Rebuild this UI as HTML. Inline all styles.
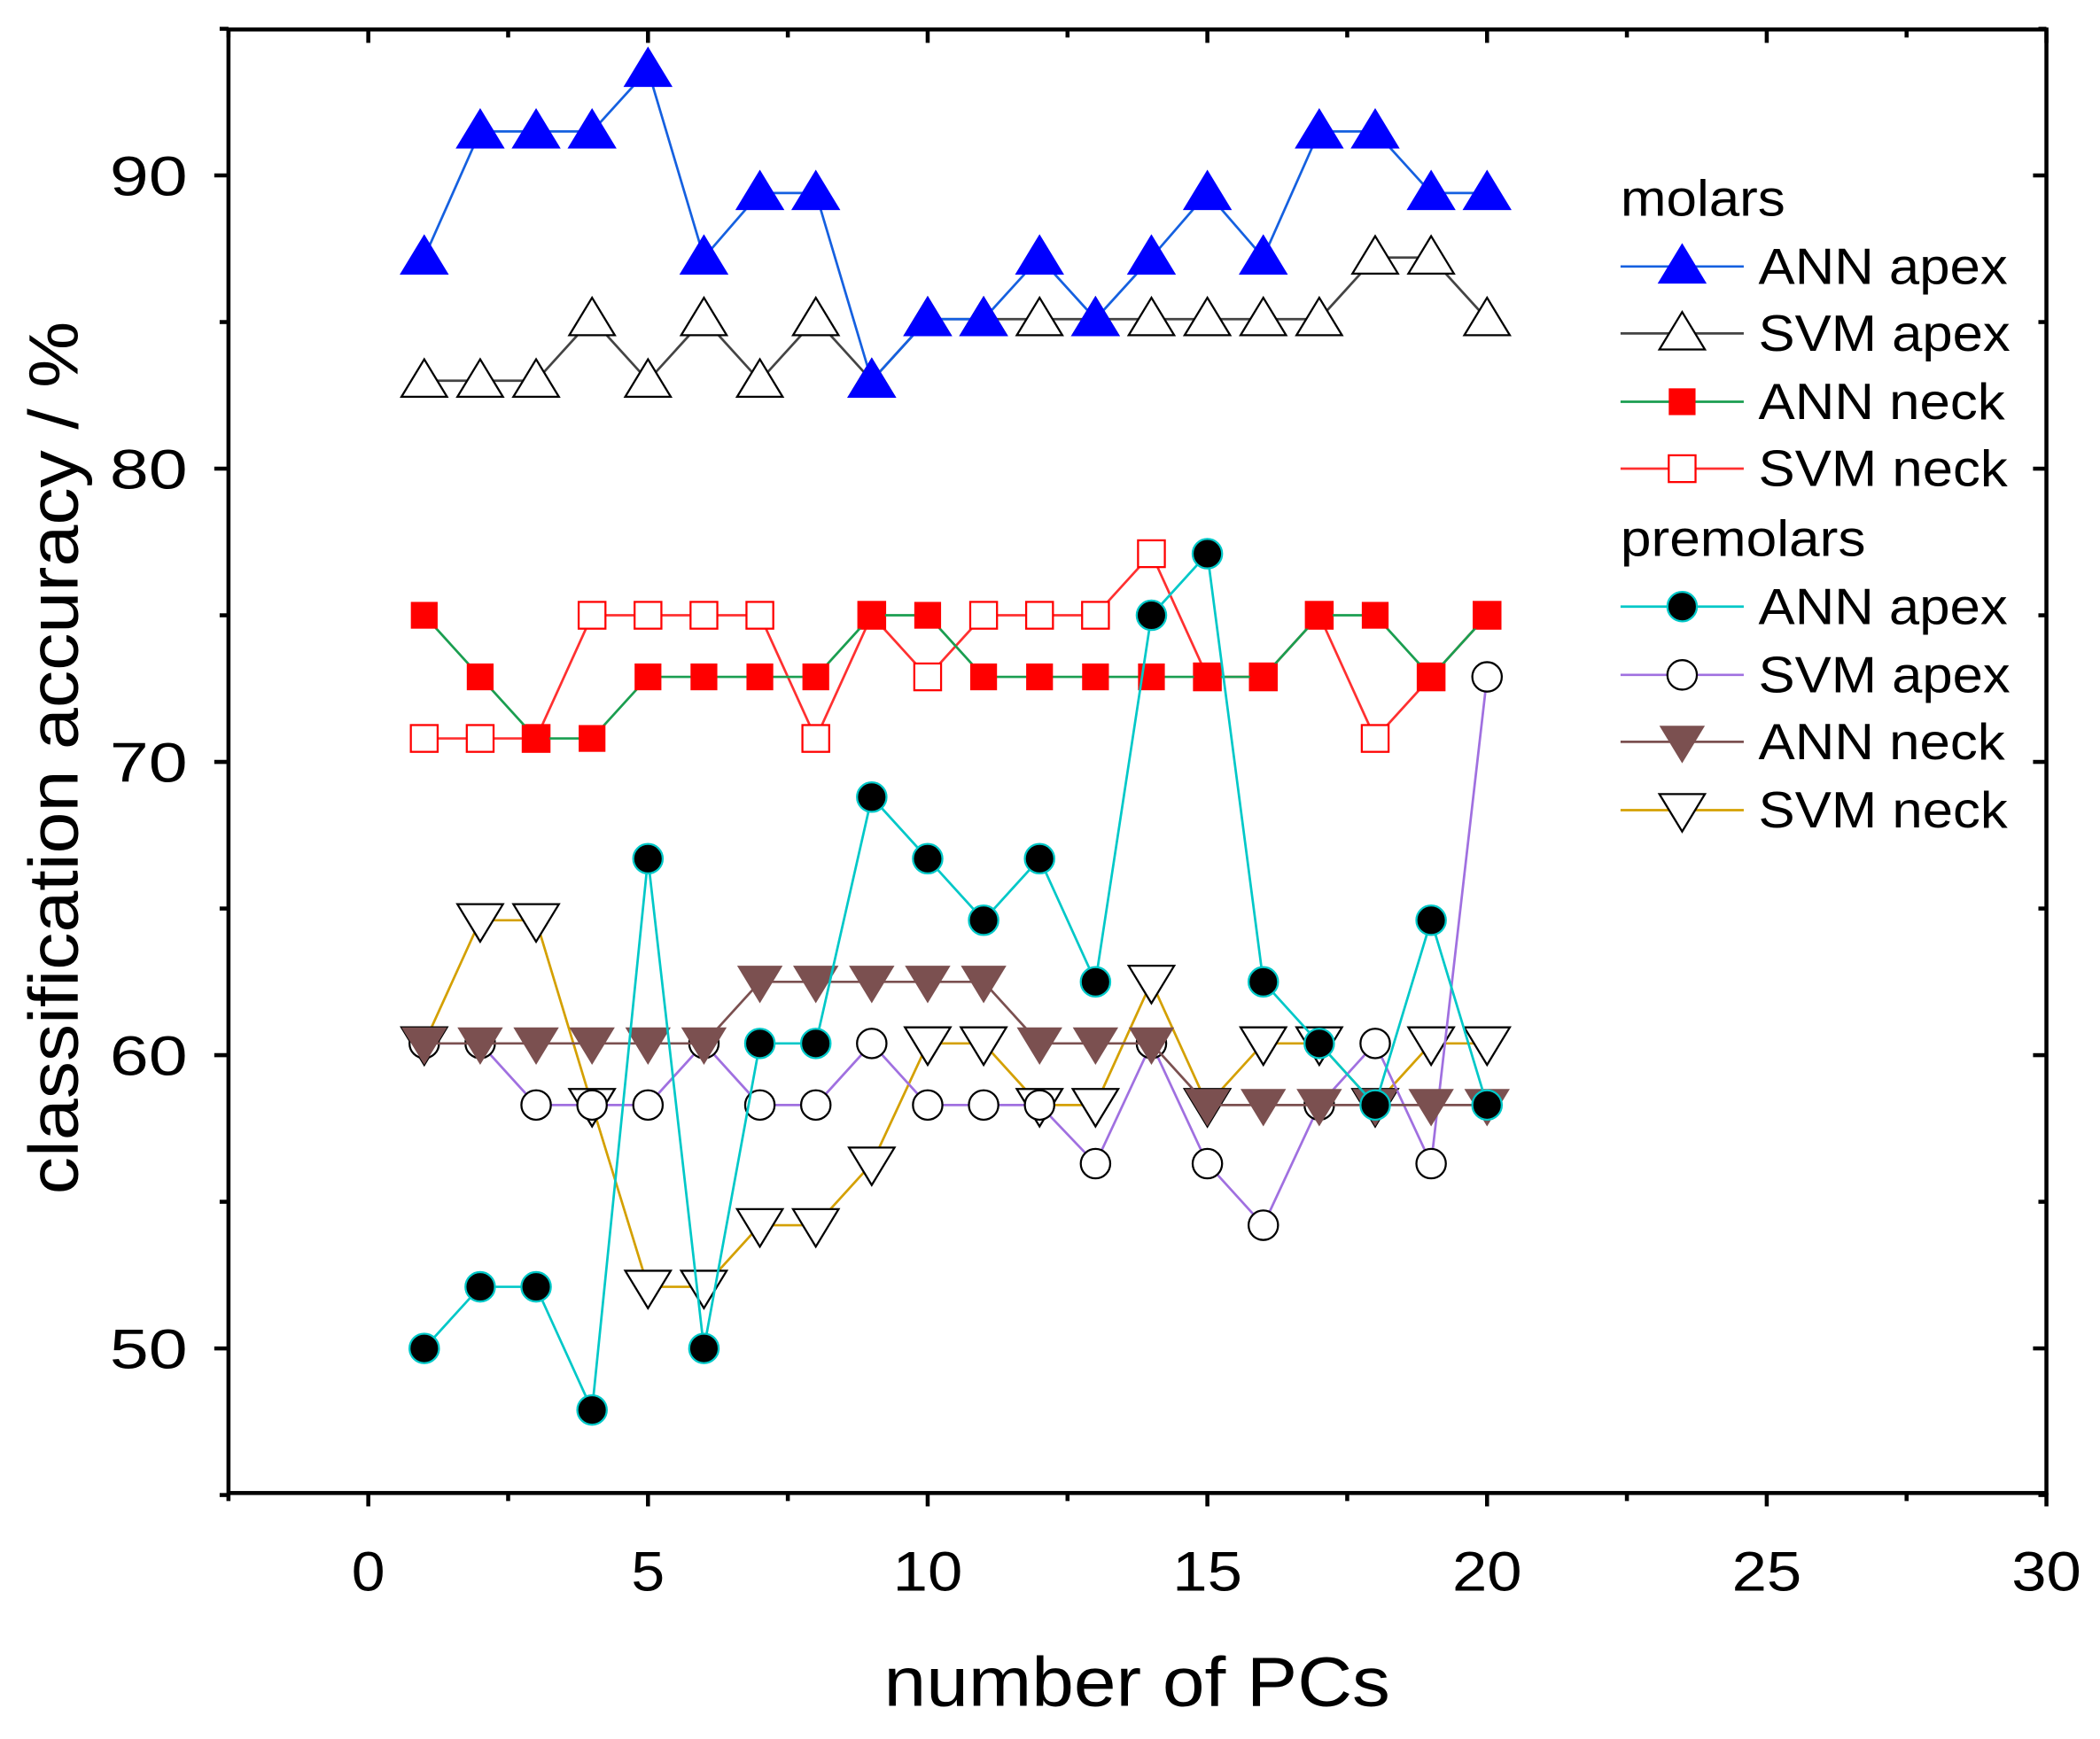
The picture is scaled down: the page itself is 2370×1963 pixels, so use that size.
<!DOCTYPE html>
<html><head><meta charset="utf-8"><style>
html,body{margin:0;padding:0;background:#fff;}
svg{display:block;}
text{font-family:"Liberation Sans",Arial,sans-serif;fill:#000;}
</style></head><body>
<svg id="s" width="2370" height="1963" viewBox="0 0 1568 1298.7" xmlns="http://www.w3.org/2000/svg"></svg>
<script>
const s=document.getElementById('s');
const X=n=>275+n*41.767, Y=v=>131+(90-v)*21.9;
let h='';
h+=`<rect x="170.6" y="22" width="1357.4" height="1093" fill="none" stroke="#000" stroke-width="3"/>`;
for(let v=45;v<=95;v+=5){const y=Y(v);const maj=v%10==0;
 h+=`<line x1="${maj?160:164}" y1="${y}" x2="170.6" y2="${y}" stroke="#000" stroke-width="3"/>`;
 h+=`<line x1="1528" y1="${y}" x2="${maj?1518:1522}" y2="${y}" stroke="#000" stroke-width="3"/>`;
 if(maj&&v<95) h+=`<text x="140" y="${y+15}" font-size="42" text-anchor="end" textLength="58" lengthAdjust="spacingAndGlyphs">${v}</text>`;}
for(let n=-2.5;n<=30;n+=2.5){const x=X(n);const maj=n%5==0;
 h+=`<line x1="${x}" y1="1115" x2="${x}" y2="${maj?1125:1121}" stroke="#000" stroke-width="3"/>`;
 h+=`<line x1="${x}" y1="22" x2="${x}" y2="${maj?32:28}" stroke="#000" stroke-width="3"/>`;
 if(maj){const w=n>=10?52:25;h+=`<text x="${x}" y="1188" font-size="42" text-anchor="middle" textLength="${w}" lengthAdjust="spacingAndGlyphs">${n}</text>`;}}
h+=`<text x="849" y="1274" font-size="52" text-anchor="middle" textLength="378" lengthAdjust="spacingAndGlyphs">number of PCs</text>`;
h+=`<text transform="translate(58,566) rotate(-90)" font-size="52" text-anchor="middle" textLength="652" lengthAdjust="spacingAndGlyphs">classification accuracy / %</text>`;
function mk(t,x,y){
 if(t=='tu') return `<polygon points="${x},${y-16} ${x-17},${y+12} ${x+17},${y+12}" fill="#0000ff" stroke="#0000ff" stroke-width="1.5"/>`;
 if(t=='tuo') return `<polygon points="${x},${y-16} ${x-17},${y+12} ${x+17},${y+12}" fill="#fff" stroke="#000" stroke-width="1.5"/>`;
 if(t=='sq') return `<rect x="${x-10}" y="${y-10}" width="20" height="20" fill="#ff0000"/>`;
 if(t=='sqo') return `<rect x="${x-10}" y="${y-10}" width="20" height="20" fill="#fff" stroke="#ff0000" stroke-width="1.5"/>`;
 if(t=='c') return `<circle cx="${x}" cy="${y}" r="11" fill="#000" stroke="#00c8c8" stroke-width="1.5"/>`;
 if(t=='co') return `<circle cx="${x}" cy="${y}" r="11" fill="#fff" stroke="#000" stroke-width="1.5"/>`;
 if(t=='td') return `<polygon points="${x},${y+16} ${x-17},${y-12} ${x+17},${y-12}" fill="#7b5050"/>`;
 if(t=='tdo') return `<polygon points="${x},${y+16} ${x-17},${y-12} ${x+17},${y-12}" fill="#fff" stroke="#000" stroke-width="1.5"/>`;
}
const S=[
['SVM apex','tuo','#444',[83,83,83,85.1,83,85.1,83,85.1,83,85.1,85.1,85.1,85.1,85.1,85.1,85.1,85.1,87.2,87.2,85.1]],
['ANN apex','tu','#1560e0',[87.2,91.5,91.5,91.5,93.6,87.2,89.4,89.4,83,85.1,85.1,87.2,85.1,87.2,89.4,87.2,91.5,91.5,89.4,89.4]],
['SVM neck','sqo','#ff3030',[70.8,70.8,70.8,75,75,75,75,70.8,75,72.9,75,75,75,77.1,72.9,72.9,75,70.8,72.9,75]],
['ANN neck','sq','#1a9e50',[75,72.9,70.8,70.8,72.9,72.9,72.9,72.9,75,75,72.9,72.9,72.9,72.9,72.9,72.9,75,75,72.9,75]],
['SVM neck','tdo','#d4a000',[60.4,64.6,64.6,58.3,52.1,52.1,54.2,54.2,56.3,60.4,60.4,58.3,58.3,62.5,58.3,60.4,60.4,58.3,60.4,60.4]],
['SVM apex','co','#a070e0',[60.4,60.4,58.3,58.3,58.3,60.4,58.3,58.3,60.4,58.3,58.3,58.3,56.3,60.4,56.3,54.2,58.3,60.4,56.3,72.9]],
['ANN neck','td','#7b5050',[60.4,60.4,60.4,60.4,60.4,60.4,62.5,62.5,62.5,62.5,62.5,60.4,60.4,60.4,58.3,58.3,58.3,58.3,58.3,58.3]],
['ANN apex','c','#00c8c8',[50,52.1,52.1,47.9,66.7,50,60.4,60.4,68.8,66.7,64.6,66.7,62.5,75,77.1,62.5,60.4,58.3,64.6,58.3]],
];
for(const [n,t,c,d] of S){
 h+=`<polyline fill="none" stroke="${c}" stroke-width="1.8" points="${d.map((v,i)=>X(i+1)+','+Y(v)).join(' ')}"/>`;
 d.forEach((v,i)=>h+=mk(t,X(i+1),Y(v)));
}
h+=`<text x="1210" y="161" font-size="38" textLength="123" lengthAdjust="spacingAndGlyphs">molars</text>`;
h+=`<text x="1210" y="415" font-size="38" textLength="183" lengthAdjust="spacingAndGlyphs">premolars</text>`;
const L=[[199,'ANN apex','tu','#1560e0'],[249,'SVM apex','tuo','#444'],[300,'ANN neck','sq','#1a9e50'],[350,'SVM neck','sqo','#ff3030'],
[453,'ANN apex','c','#00c8c8'],[504,'SVM apex','co','#a070e0'],[554,'ANN neck','td','#7b5050'],[605,'SVM neck','tdo','#d4a000']];
for(const [y,n,t,c] of L){
 h+=`<line x1="1210" y1="${y}" x2="1302" y2="${y}" stroke="${c}" stroke-width="1.8"/>`;
 h+=mk(t,1256,y);
 const w=n.includes('apex')?(n[0]=='S'?188:186):(n[0]=='S'?186:184);
 h+=`<text x="1313" y="${y+13}" font-size="38" textLength="${w}" lengthAdjust="spacingAndGlyphs">${n}</text>`;
}
s.innerHTML=h;
</script>
</body></html>
